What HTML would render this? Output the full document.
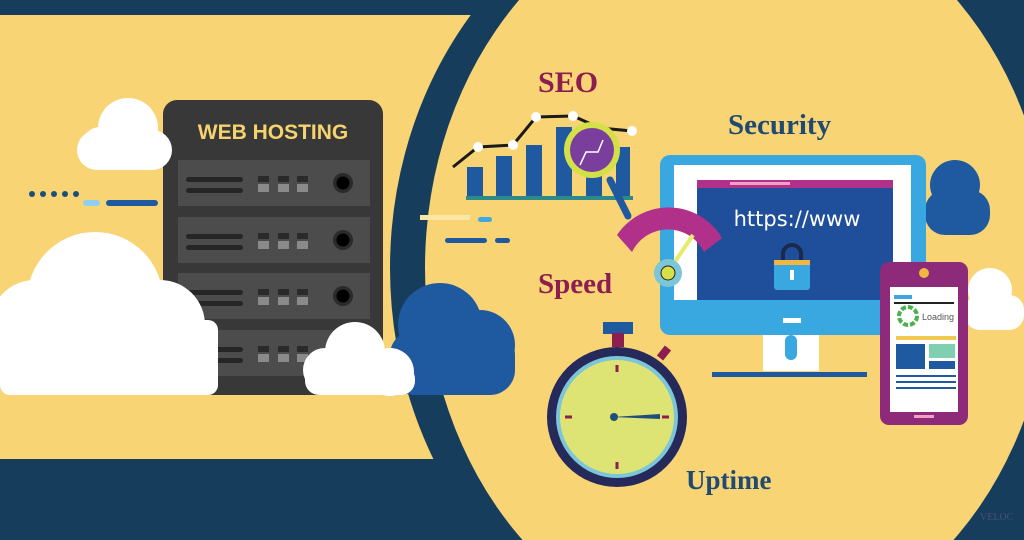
<!DOCTYPE html>
<html><head><meta charset="utf-8"><style>
html,body{margin:0;padding:0;background:#173d5d;width:1024px;height:540px;overflow:hidden;}
svg{display:block}
</style></head><body>
<svg width="1024" height="540" viewBox="0 0 1024 540" xmlns="http://www.w3.org/2000/svg">
<rect width="1024" height="540" fill="#173d5d"/>
<rect x="0" y="15" width="520" height="444" fill="#f8d475"/>
<ellipse cx="738" cy="268" rx="348" ry="395" fill="#173d5d"/>
<ellipse cx="738" cy="268" rx="313" ry="375" fill="#f8d475"/>
<!-- left deco lines -->
<g fill="#1b4f7a">
<circle cx="32" cy="194" r="3"/><circle cx="43" cy="194" r="3"/><circle cx="54" cy="194" r="3"/><circle cx="65" cy="194" r="3"/><circle cx="76" cy="194" r="3"/>
</g>
<rect x="83" y="200" width="17" height="6" rx="3" fill="#8fd0ee"/>
<rect x="106" y="200" width="52" height="6" rx="3" fill="#1f5aa0"/>
<!-- server -->
<rect x="163" y="100" width="220" height="295" rx="14" fill="#383838"/>
<text x="273" y="139" text-anchor="middle" font-family="Liberation Sans, sans-serif" font-weight="bold" font-size="21" fill="#f5d36f">WEB HOSTING</text>
<g id="slot">
<rect x="178" y="160" width="192" height="46" fill="#4c4c4c"/>
<rect x="186" y="177" width="57" height="5" rx="2.5" fill="#262626"/>
<rect x="186" y="188" width="57" height="5" rx="2.5" fill="#262626"/>
<rect x="258" y="176" width="11" height="6" fill="#2a2a2a"/><rect x="278" y="176" width="11" height="6" fill="#2a2a2a"/><rect x="297" y="176" width="11" height="6" fill="#2a2a2a"/>
<rect x="258" y="184" width="11" height="8" fill="#8a8a8a"/><rect x="278" y="184" width="11" height="8" fill="#8a8a8a"/><rect x="297" y="184" width="11" height="8" fill="#8a8a8a"/>
<circle cx="343" cy="183" r="10" fill="#2a2a2a"/><circle cx="343" cy="183" r="6.5" fill="#000"/>
</g>
<use href="#slot" y="57"/><use href="#slot" y="113"/><use href="#slot" y="170"/>
<!-- clouds -->
<g fill="#fff">
<rect x="77" y="130" width="95" height="40" rx="20"/><circle cx="128" cy="128" r="30"/><circle cx="100" cy="145" r="18"/>
<circle cx="95" cy="300" r="68"/><circle cx="35" cy="325" r="45"/><circle cx="160" cy="325" r="45"/><rect x="0" y="320" width="218" height="75" rx="10"/>
</g>
<g fill="#1f5aa0">
<circle cx="440" cy="325" r="42"/><circle cx="480" cy="345" r="35"/><rect x="390" y="330" width="125" height="65" rx="25"/>
<circle cx="955" cy="185" r="25"/><rect x="925" y="190" width="65" height="45" rx="20"/>
</g>
<g fill="#fff">
<circle cx="355" cy="352" r="30"/><circle cx="325" cy="370" r="22"/><circle cx="390" cy="372" r="24"/><rect x="305" y="365" width="110" height="30" rx="14"/>
<circle cx="990" cy="290" r="22"/><rect x="965" y="295" width="59" height="35" rx="15"/>
</g>
<!-- SEO -->
<text x="538" y="92" font-family="Liberation Serif, serif" font-weight="bold" font-size="30" fill="#8c1f4f">SEO</text>
<g fill="#1f5aa0">
<rect x="467" y="167" width="16" height="30"/><rect x="496" y="156" width="16" height="41"/><rect x="526" y="145" width="16" height="52"/><rect x="556" y="127" width="16" height="70"/><rect x="586" y="140" width="16" height="57"/><rect x="616" y="147" width="14" height="50"/>
</g>
<rect x="466" y="196" width="167" height="4" fill="#2d8a8a"/>
<polyline points="453,167 478,147 513,145 536,117 573,116 600,128 632,131" fill="none" stroke="#1a1a1a" stroke-width="3"/>
<g fill="#fff"><circle cx="478" cy="147" r="5"/><circle cx="513" cy="145" r="5"/><circle cx="536" cy="117" r="5"/><circle cx="573" cy="116" r="5"/><circle cx="632" cy="131" r="5"/></g>
<line x1="610" y1="180" x2="628" y2="216" stroke="#1f5aa0" stroke-width="7" stroke-linecap="round"/>
<circle cx="592" cy="150" r="28" fill="#d4e048"/>
<circle cx="592" cy="150" r="22" fill="#7a3f9c"/>
<polyline points="580,165 586,152 598,152 603,140" fill="none" stroke="#fff" stroke-width="1.5"/>
<!-- deco lines -->
<rect x="420" y="215" width="50" height="5" fill="#fbe7a5"/>
<rect x="478" y="217" width="14" height="5" rx="2.5" fill="#3fa9e0"/>
<rect x="445" y="238" width="42" height="5" rx="2.5" fill="#1f5aa0"/><rect x="495" y="238" width="15" height="5" rx="2.5" fill="#1f5aa0"/>
<!-- Security -->
<text x="728" y="134" font-family="Liberation Serif, serif" font-weight="bold" font-size="29" fill="#1f4a72">Security</text>
<rect x="660" y="155" width="266" height="180" rx="10" fill="#3aa8e0"/>
<rect x="674" y="165" width="237" height="135" fill="#fff"/>
<rect x="697" y="180" width="196" height="120" fill="#1f4f9a"/>
<rect x="697" y="180" width="196" height="8" fill="#b0308a"/>
<rect x="730" y="182" width="60" height="3" fill="#f0a0c0"/>
<text x="797" y="226" text-anchor="middle" font-family="DejaVu Sans, sans-serif" font-size="21" fill="#fff">https://www</text>
<path d="M783 262 v-8 a9 9 0 0 1 18 0 v8" fill="none" stroke="#1a2a4a" stroke-width="4"/>
<rect x="774" y="260" width="36" height="30" rx="3" fill="#3aa8e0"/><rect x="774" y="260" width="36" height="5" fill="#f0b840"/>
<rect x="790" y="270" width="4" height="10" fill="#fff"/>
<rect x="783" y="318" width="18" height="5" fill="#fff"/>
<rect x="763" y="335" width="56" height="36" fill="#fff"/>
<rect x="785" y="335" width="12" height="25" rx="6" fill="#3aa8e0"/>
<rect x="712" y="372" width="155" height="5" fill="#1f5aa0"/>
<!-- gauge -->
<path d="M617 235 A62 62 0 0 1 722 238 L704 252 A40 40 0 0 0 632 252 Z" fill="#b0308a"/>
<line x1="668" y1="272" x2="693" y2="235" stroke="#e6ec6a" stroke-width="4"/>
<circle cx="668" cy="273" r="14" fill="#7cc6d8"/><circle cx="668" cy="273" r="7" fill="#d8e048" stroke="#222" stroke-width="1"/>
<!-- Speed -->
<text x="538" y="293" font-family="Liberation Serif, serif" font-weight="bold" font-size="29" fill="#8c1f4f">Speed</text>
<!-- stopwatch -->
<rect x="603" y="322" width="30" height="12" fill="#1f5aa0"/><rect x="612" y="333" width="12" height="14" fill="#8c1f4f"/>
<line x1="660" y1="358" x2="668" y2="348" stroke="#8c1f4f" stroke-width="8"/>
<circle cx="617" cy="417" r="70" fill="#262a5a"/>
<circle cx="617" cy="417" r="61" fill="#7cc6d8"/>
<circle cx="617" cy="417" r="57" fill="#dde474"/>
<g stroke="#8c1f4f" stroke-width="3"><line x1="617" y1="365" x2="617" y2="372"/><line x1="617" y1="462" x2="617" y2="469"/><line x1="565" y1="417" x2="572" y2="417"/><line x1="662" y1="417" x2="669" y2="417"/></g>
<polygon points="612,417 660,414 660,419" fill="#1f4f7a"/><circle cx="614" cy="417" r="4" fill="#1f4f7a"/>
<text x="686" y="489" font-family="Liberation Serif, serif" font-weight="bold" font-size="27" fill="#1f4a72">Uptime</text>
<!-- phone -->
<rect x="880" y="262" width="88" height="163" rx="9" fill="#8e2a7a"/>
<rect x="890" y="287" width="68" height="125" fill="#fff"/>
<circle cx="924" cy="273" r="5" fill="#f0b840"/>
<rect x="914" y="415" width="20" height="3" fill="#f0a0c0"/>
<rect x="894" y="295" width="18" height="4" fill="#3aa8e0"/><rect x="894" y="302" width="60" height="2" fill="#222"/>
<circle cx="908" cy="316" r="9" fill="none" stroke="#4caf50" stroke-width="4" stroke-dasharray="5 2"/>
<text x="922" y="320" font-family="Liberation Sans, sans-serif" font-size="9" fill="#555">Loading</text>
<rect x="896" y="336" width="60" height="4" fill="#f0c850"/>
<rect x="896" y="344" width="29" height="25" fill="#1f5aa0"/><rect x="929" y="344" width="26" height="14" fill="#7fd0b0"/><rect x="929" y="361" width="26" height="8" fill="#1f5aa0"/>
<rect x="896" y="375" width="60" height="2" fill="#1f5aa0"/><rect x="896" y="381" width="60" height="2" fill="#1f5aa0"/><rect x="896" y="387" width="60" height="2" fill="#1f5aa0"/>
<text x="980" y="520" font-family="Liberation Serif, serif" font-size="10" fill="#6b5a8a" opacity="0.6">VELOC</text>
</svg>
</body></html>
